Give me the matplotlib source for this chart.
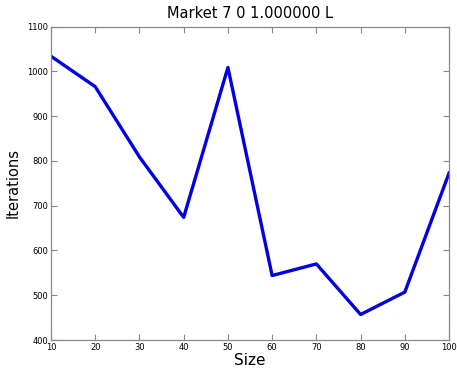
import matplotlib
matplotlib.use("Agg")
import matplotlib.pyplot as plt

# Data
sizes = [10, 20, 30, 40, 50, 60, 70, 80, 90, 100]
iterations = [1034, 966, 809, 674, 1009, 544, 570, 457, 507, 773]
xticks = [10, 20, 30, 40, 50, 60, 70, 80, 90, 100]
yticks = [400, 500, 600, 700, 800, 900, 1000, 1100]

fig = plt.figure(figsize=(4.57, 3.74), dpi=100)
ax = fig.add_axes([0.1116, 0.0909, 0.871, 0.8377])

ax.plot(sizes, iterations, color='#0000e0', linewidth=2.4)

ax.set_xlim(10, 100)
ax.set_ylim(400, 1100)
ax.set_xticks(xticks)
ax.set_yticks(yticks)

for s in ax.spines.values():
    s.set_color('#888888')
    s.set_linewidth(0.9)
ax.tick_params(direction='in', top=True, right=True, length=4, width=0.8,
               color='#888888', labelsize=6, pad=2)

ax.set_xlabel('Size', fontsize=11, labelpad=1)
ax.set_ylabel('Iterations', fontsize=10.5, labelpad=5)
ax.set_title('Market 7 0 1.000000 L', fontsize=10.5, pad=6)

fig.savefig('out.png', dpi=100)
